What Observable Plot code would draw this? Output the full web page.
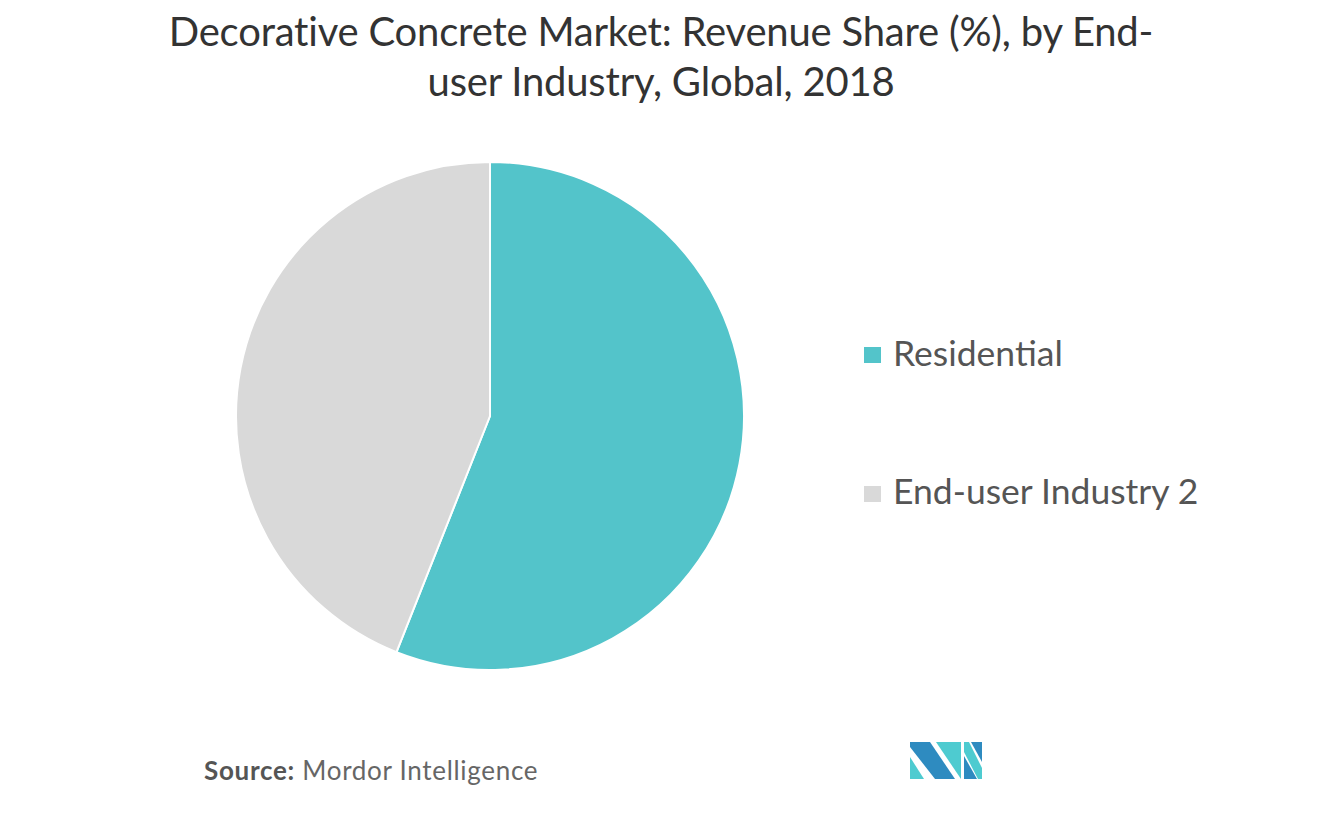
<!DOCTYPE html>
<html>
<head>
<meta charset="utf-8">
<script src="https://cdn.jsdelivr.net/npm/d3@7"></script>
<script src="https://cdn.jsdelivr.net/npm/@observablehq/plot@0.6"></script>
<style>
  html, body { margin: 0; padding: 0; background: #fff; }
  #page { position: relative; width: 1322px; height: 817px; overflow: hidden; font-family: Lato, "Noto Sans", sans-serif; }
  #title { position: absolute; left: 0; top: 6px; width: 1322px; text-align: center; font-size: 40px; line-height: 50px; color: #333; letter-spacing: -0.2px; }
  #chart { position: absolute; left: 0; top: 0; }
  .leg { position: absolute; left: 893px; font-size: 35.5px; line-height: normal; color: #555; white-space: nowrap; }
  .sw { position: absolute; left: 864px; width: 17px; height: 16px; }
  #source { position: absolute; left: 204px; top: 754px; font-size: 26px; color: #666; white-space: nowrap; letter-spacing: 0.7px; }
  #source b { color: #555; font-weight: 700; }
  #logo { position: absolute; left: 0; top: 0; }
</style>
</head>
<body>
<div id="page">
  <div id="chart"></div>
  <div id="title">Decorative Concrete Market: Revenue Share (%), by End-<br>user Industry, Global, 2018</div>
  <div id="legend"></div>
  <div id="source"><b>Source:</b> Mordor Intelligence</div>
  <svg id="logo" width="1322" height="817" style="pointer-events:none">
    <polygon points="910,757 910,779 924,779" fill="#4ECBD0"/>
    <polygon points="910,742 930,742 955,779 935,779 910,747" fill="#2E8BC0"/>
    <polygon points="936,742 961,742 961,779" fill="#4ECBD0"/>
    <polygon points="964,742 969,742 982,768 982,779 978,779 964,752" fill="#4ECBD0"/>
    <polygon points="964,756 977,779 964,779" fill="#2E8BC0"/>
    <polygon points="971,742 982,742 982,762" fill="#2E8BC0"/>
  </svg>
</div>
<script>
// Data
const categories = ["Residential", "End-user Industry 2"];
const shares = [56, 44];
const palette = ["#53C4CA", "#D9D9D9"];

const color = Plot.scale({color: {type: "ordinal", domain: categories, range: palette}});
const data = categories.map((c, i) => ({category: c, share: shares[i]}));

const cx = 490, cy = 416, radius = 254;

function pieMark(index, scales, values, dimensions) {
  const arcs = d3.pie().sort(null).value(d => d.share).startAngle(0).endAngle(2 * Math.PI)(data);
  const arc = d3.arc().innerRadius(0).outerRadius(radius);
  const g = d3.create("svg:g").attr("transform", `translate(${cx},${cy})`);
  g.selectAll("path").data(arcs).join("path")
    .attr("d", arc)
    .attr("fill", d => color.apply(d.data.category))
    .attr("stroke", "#fff")
    .attr("stroke-width", 2)
    .attr("stroke-linejoin", "round");
  return g.node();
}

const plot = Plot.plot({
  width: 1322,
  height: 817,
  margin: 0,
  x: {axis: null},
  y: {axis: null},
  marks: [pieMark]
});
document.getElementById("chart").appendChild(plot);

// Legend
const textTops = [331, 469];
const swatchTops = [347, 486];
const legend = document.getElementById("legend");
categories.forEach((c, i) => {
  const sw = document.createElement("div");
  sw.className = "sw";
  sw.style.top = swatchTops[i] + "px";
  sw.style.background = color.apply(c);
  legend.appendChild(sw);
  const div = document.createElement("div");
  div.className = "leg";
  div.style.top = textTops[i] + "px";
  div.textContent = c;
  legend.appendChild(div);
});
</script>
</body>
</html>
